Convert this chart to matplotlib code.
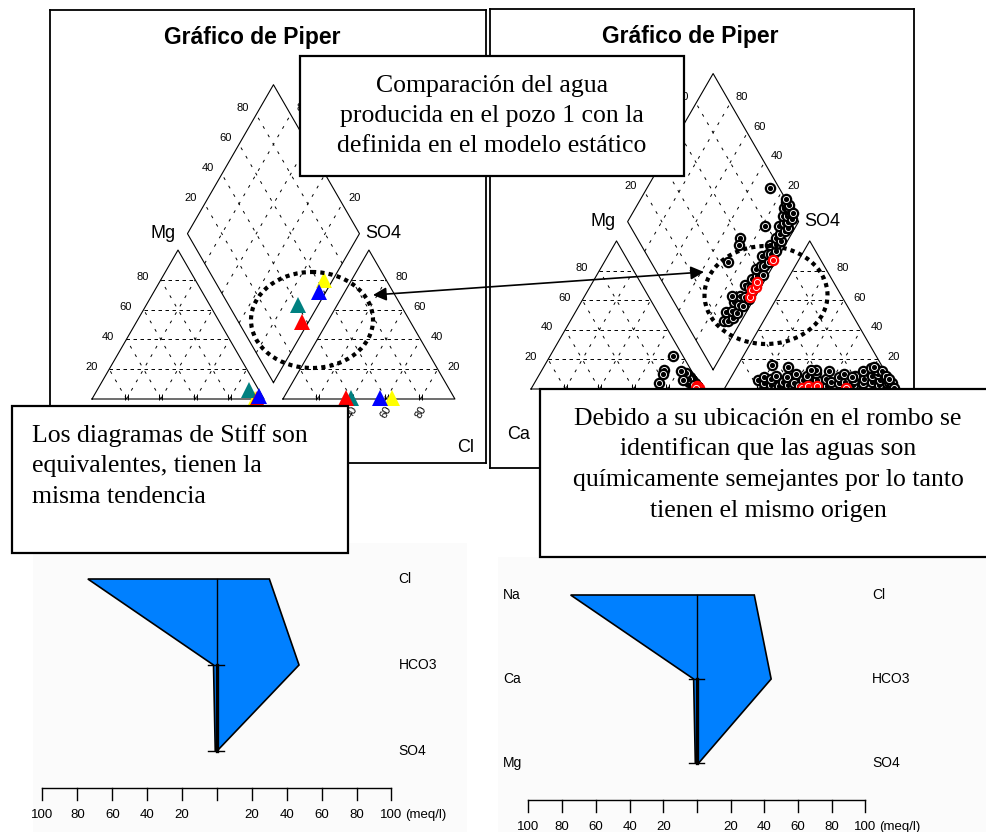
#!/usr/bin/env python3
"""Piper and Stiff diagrams: water produced in pozo 1 vs. the static model."""

import numpy as np
import matplotlib
matplotlib.use('Agg')
import matplotlib.pyplot as plt
from matplotlib import transforms
from matplotlib.patches import Rectangle, Ellipse, Polygon

W, H = 987, 832
R3 = np.sqrt(3) / 2
NIVELES = [20, 40, 60, 80]

# Pozo 1 samples, % meq/l  (yellow, teal, red, blue)
pozo_colores = ['#ffff00', '#008080', '#ff0000', '#0000ff']
pozo_ca = [5, 6, 4, 2]
pozo_mg = [0, 6, 0, 2]
pozo_na = [95, 88, 96, 96]
pozo_so4 = [1, 1, 1, 1]
pozo_cl = [63, 39, 36, 56]

# Static model samples, % meq/l (Ca = 100 - Na - Mg, HCO3 = 100 - SO4 - Cl)
modelo_na = [90, 92, 88, 94, 91, 95, 89, 93, 96, 91, 94, 97, 90, 93, 95, 92, 96,
             94, 91, 97, 93, 95, 90, 96, 93, 95, 91, 97, 94, 92, 96, 93, 90, 95,
             92, 96, 89, 94, 91, 87, 95, 92, 88, 90, 86, 93, 89, 85, 94,
             72, 71, 73, 72, 82, 86]
modelo_mg = [5, 4, 7, 3, 5, 2, 6, 4, 2, 5, 3, 1, 6, 4, 2, 5, 2,
             3, 5, 1, 4, 3, 6, 2, 4, 3, 6, 1, 3, 5, 2, 4, 7, 3,
             5, 2, 8, 4, 6, 9, 3, 5, 8, 6, 10, 4, 7, 11, 3,
             22, 13, 4, 10, 12, 6]
modelo_so4 = [6, 4, 8, 3, 7, 2, 9, 5, 3, 8, 4, 2, 10, 6, 3, 9, 4,
              6, 11, 2, 7, 5, 12, 4, 8, 5, 10, 3, 6, 9, 4, 7, 12, 5,
              9, 3, 14, 6, 10, 13, 4, 8, 12, 5, 9, 2, 4, 7, 1,
              15, 13, 13, 15, 8, 16]
modelo_cl = [17, 21, 19, 26, 24, 31, 26, 32, 36, 33, 39, 43, 37, 43, 48, 44, 51,
             51, 48, 59, 56, 60, 55, 65, 63, 68, 65, 74, 73, 72, 79, 78, 75, 84,
             82, 89, 79, 88, 85, 83, 93, 90, 86, 94, 90, 97, 96, 93, 99,
             80, 47, 44, 30, 71, 20]

# Static model samples matching pozo 1 (red)
rojo_na = [98, 97, 96, 97, 96]
rojo_mg = [1, 1, 2, 1, 1]
rojo_so4 = [1, 1, 2, 1, 2]
rojo_cl = [71, 45, 48, 52, 53]

# Stiff diagrams, meq/l
stiff_cationes = ['Na', 'Ca', 'Mg']
stiff_aniones = ['Cl', 'HCO3', 'SO4']
stiff_pozo_cat = [74, 2, 1]
stiff_pozo_an = [30, 47, 0]
stiff_modelo_cat = [75, 2, 1]
stiff_modelo_an = [34, 44, 1]
stiff_ticks = [-100, -80, -60, -40, -20, 0, 20, 40, 60, 80, 100]

# Note boxes: (x0, y0, x1, y1) in pixels, alignment, text x, baselines, lines
cajas = [
    ((300, 56, 684, 176), 'center', 492, [92, 122, 152],
     ['Comparación del agua', 'producida en el pozo 1 con la',
      'definida en el modelo estático']),
    ((12, 406, 348, 553), 'left', 32, [442, 472, 503],
     ['Los diagramas de Stiff son', 'equivalentes, tienen la', 'misma tendencia']),
    ((540, 389, 996, 557), 'center', 768, [425, 455.5, 486, 516.5],
     ['Debido a su ubicación en el rombo se', 'identifican que las aguas son',
      'químicamente semejantes por lo tanto', 'tienen el mismo origen']),
]

plt.rcParams['font.family'] = ['Liberation Sans', 'DejaVu Sans']
SERIF = ['Liberation Serif', 'DejaVu Serif']


def eje_px(fig, x0, y0, x1, y1, zorder=1):
    return fig.add_axes([x0 / W, 1 - y1 / H, (x1 - x0) / W, (y1 - y0) / H], zorder=zorder)


def piper_xy(na, mg, so4, cl, g):
    """Cation, diamond and anion positions for a set of samples."""
    na, mg, so4, cl = (np.asarray(a, float) / 100 for a in (na, mg, so4, cl))
    xc, yc = na + 0.5 * mg, R3 * mg
    xa, ya = 1 + g + cl + 0.5 * so4, R3 * so4
    u, v = na, so4 + cl
    xd = 1 + g / 2 - 0.5 * (1 - u) + 0.5 * v
    yd = g * R3 + R3 * (1 - u) + R3 * v
    return np.stack([xc, xd, xa], 1), np.stack([yc, yd, ya], 1)


def dibujar_piper(ax, g):
    ax.set_xticks([])
    ax.set_yticks([])
    for s in ax.spines.values():
        s.set_linewidth(1.3)
    ln = dict(color='black', lw=0.8)
    largo = dict(color='black', lw=0.7, ls=(0, (3.6, 3.6)))
    corto = dict(color='black', lw=0.7, ls=(0, (3.0, 7.0)))
    ox = 1 + g
    B = np.array([1 + g / 2, g * R3])
    dL = np.array([-0.5, R3])
    dR = np.array([0.5, R3])

    ax.plot([0, 1, 0.5, 0], [0, 0, R3, 0], **ln)
    ax.plot([ox, ox + 1, ox + 0.5, ox], [0, 0, R3, 0], **ln)
    rombo = np.array([B, B + dL, B + dL + dR, B + dR, B])
    ax.plot(rombo[:, 0], rombo[:, 1], **ln)

    for p in NIVELES:
        f = p / 100
        for x0 in (0, ox):
            ax.plot([x0 + 0.5 * f, x0 + 1 - 0.5 * f], [R3 * f] * 2, **largo)
            ax.plot([x0 + 1 - f, x0 + 0.5 * (1 - f)], [0, R3 * (1 - f)], **corto)
            ax.plot([x0 + f, x0 + f + 0.5 * (1 - f)], [0, R3 * (1 - f)], **corto)
            ax.plot([x0 + f - 0.009, x0 + f + 0.009], [0.013, 0.013], ls='none',
                    marker='|', ms=4, mew=0.7, color='black')
        a, b = B + f * dL, B + f * dL + dR
        ax.plot([a[0], b[0]], [a[1], b[1]], **corto)
        a, b = B + f * dR, B + f * dR + dL
        ax.plot([a[0], b[0]], [a[1], b[1]], **corto)

        lab = dict(fontsize=8, ha='center', va='center')
        ax.text(0.5 * f - 0.105, R3 * f + 0.015, str(p), **lab)
        ax.text(ox + 1 - 0.5 * f + 0.093, R3 * f + 0.015, str(p), **lab)
        ax.text(ox + f, -0.078, str(p), rotation=60, **lab)
        e = B + dL + f * dR
        ax.text(e[0] - 0.08, e[1] + 0.035, str(p), **lab)
        e = B + dR + f * dL
        ax.text(e[0] + 0.07, e[1] + 0.035, str(p), **lab)

    L, R = B + dL, B + dR
    ax.text(L[0] - 0.07, L[1], 'Mg', fontsize=13, ha='right', va='center')
    ax.text(R[0] + 0.035, R[1], 'SO4', fontsize=13, ha='left', va='center')
    ax.text(-0.07, -0.265, 'Ca', fontsize=13, ha='center', va='center')
    ax.text(ox + 1.06, -0.28, 'Cl', fontsize=13, ha='center', va='center')

    tr = transforms.blended_transform_factory(ax.transData, ax.transAxes)
    ax.text(0.93, 0.94, 'Gráfico de Piper', transform=tr, fontsize=16.5,
            fontweight='bold', ha='center', va='center')


def simbolo(ax, xs, ys, color, z):
    """Ringed circle marker: disc, white ring and centre dot."""
    ax.plot(xs, ys, ls='none', marker='o', ms=8.3, mfc=color, mec=color, mew=0, zorder=z)
    ax.plot(xs, ys, ls='none', marker='o', ms=4.4, mfc='none', mec='white', mew=0.65, zorder=z)
    ax.plot(xs, ys, ls='none', marker='o', ms=1.8, mfc=color, mec=color, mew=0, zorder=z)


def dibujar_stiff(ax, cat, an, eje_y, etiquetas_izq):
    ax.set_facecolor('#fbfbfb')
    ax.set_xticks([])
    ax.set_yticks([])
    for s in ax.spines.values():
        s.set_visible(False)
    filas = [2, 1, 0]
    xs = [-c for c in cat] + [a for a in an[::-1]]
    ys = filas + filas[::-1]
    ax.add_patch(Polygon(np.column_stack([xs, ys]), closed=True, facecolor='#0080ff',
                         edgecolor='black', lw=1.2))
    ax.plot([0, 0], [1, 2], color='black', lw=1.0)
    ax.plot([0, 0], [0, 1], color='black', lw=2.4)
    for f in (0, 1):
        ax.plot([-5, 4], [f, f], color='black', lw=1.0)
    for nombre, f in zip(stiff_aniones, filas):
        ax.text(104, f, nombre, fontsize=10, ha='left', va='center')
    if etiquetas_izq:
        for nombre, f in zip(stiff_cationes, filas):
            ax.text(-115, f, nombre, fontsize=10, ha='left', va='center')
    y_eje, y_tick, y_lab = eje_y
    ax.plot([stiff_ticks[0], stiff_ticks[-1]], [y_eje, y_eje], color='black', lw=1.0)
    for t in stiff_ticks:
        ax.plot([t, t], [y_eje, y_tick], color='black', lw=1.0)
        if t != 0:
            ax.text(t, y_lab, str(abs(t)), fontsize=9.5, ha='center', va='center')
    ax.text(108, y_lab, '(meq/l)', fontsize=9.5, ha='left', va='center')


fig = plt.figure(figsize=(W / 100, H / 100), dpi=100)

# Left Piper: pozo 1
ax1 = eje_px(fig, 50, 10, 486, 463)
ax1.set_xlim((50 - 92) / 172, (486 - 92) / 172)
ax1.set_ylim((399 - 463) / 172, (399 - 10) / 172)
dibujar_piper(ax1, 0.11)
px, py = piper_xy(pozo_na, pozo_mg, pozo_so4, pozo_cl, 0.11)
for i, col in enumerate(pozo_colores):
    ax1.plot(px[i], py[i], ls='none', marker='^', ms=11, color=col, mew=0, zorder=5 + i)

# Right Piper: static model
ax2 = eje_px(fig, 490, 9, 914, 468)
ax2.set_xlim((490 - 531) / 171, (914 - 531) / 171)
ax2.set_ylim((389 - 468) / 171, (389 - 9) / 171)
dibujar_piper(ax2, 0.13)
mx, my = piper_xy(modelo_na, modelo_mg, modelo_so4, modelo_cl, 0.13)
for i in range(len(modelo_na)):
    simbolo(ax2, mx[i], my[i], 'black', 5 + i * 0.01)
rx, ry = piper_xy(rojo_na, rojo_mg, rojo_so4, rojo_cl, 0.13)
for i in range(len(rojo_na)):
    simbolo(ax2, rx[i], ry[i], '#ff0000', 7 + i * 0.01)

# Stiff diagrams
ax3 = eje_px(fig, 33, 543, 467, 832)
ax3.set_xlim((33 - 217) / 1.745, (467 - 217) / 1.745)
ax3.set_ylim((751 - 832) / 86, (751 - 543) / 86)
dibujar_stiff(ax3, stiff_pozo_cat, stiff_pozo_an, (-0.43, -0.57, -0.745), False)

ax4 = eje_px(fig, 498, 557, 987, 832)
ax4.set_xlim((498 - 697) / 1.685, (987 - 697) / 1.685)
ax4.set_ylim((763 - 832) / 84, (763 - 557) / 84)
dibujar_stiff(ax4, stiff_modelo_cat, stiff_modelo_an, (-0.44, -0.583, -0.762), True)

# Annotation layer in pixel units
ov = eje_px(fig, 0, 0, W, H, zorder=10)
ov.set_xlim(0, W)
ov.set_ylim(H, 0)
ov.axis('off')
ov.patch.set_alpha(0)

for cx, cy, w, h in [(312, 320, 122, 96), (766, 295, 123, 98)]:
    ov.add_patch(Ellipse((cx, cy), w, h, fill=False, color='black', lw=3, ls=(0, (1, 1))))
ov.annotate('', xy=(373, 295), xytext=(704, 272),
            arrowprops=dict(arrowstyle='<|-|>', color='black', lw=1.2,
                            mutation_scale=20, shrinkA=0, shrinkB=0))

for (x0, y0, x1, y1), ha, tx, ys, lineas in cajas:
    ov.add_patch(Rectangle((x0, y0), x1 - x0, y1 - y0, facecolor='white',
                           edgecolor='black', lw=1.6))
    for y, t in zip(ys, lineas):
        ov.text(tx, y, t, family=SERIF, fontsize=18.5, ha=ha, va='baseline')

# Piper labels lying completely under a note box are left out
fig.canvas.draw()
tapas = [(x0, H - y1, x1, H - y0) for (x0, y0, x1, y1), *_ in cajas]
for ax in (ax1, ax2):
    for t in ax.texts:
        bb = t.get_window_extent()
        if any(bb.x0 >= a and bb.x1 <= c and bb.y0 >= b and bb.y1 <= d for a, b, c, d in tapas):
            t.set_visible(False)

fig.savefig('out.png', dpi=100)
